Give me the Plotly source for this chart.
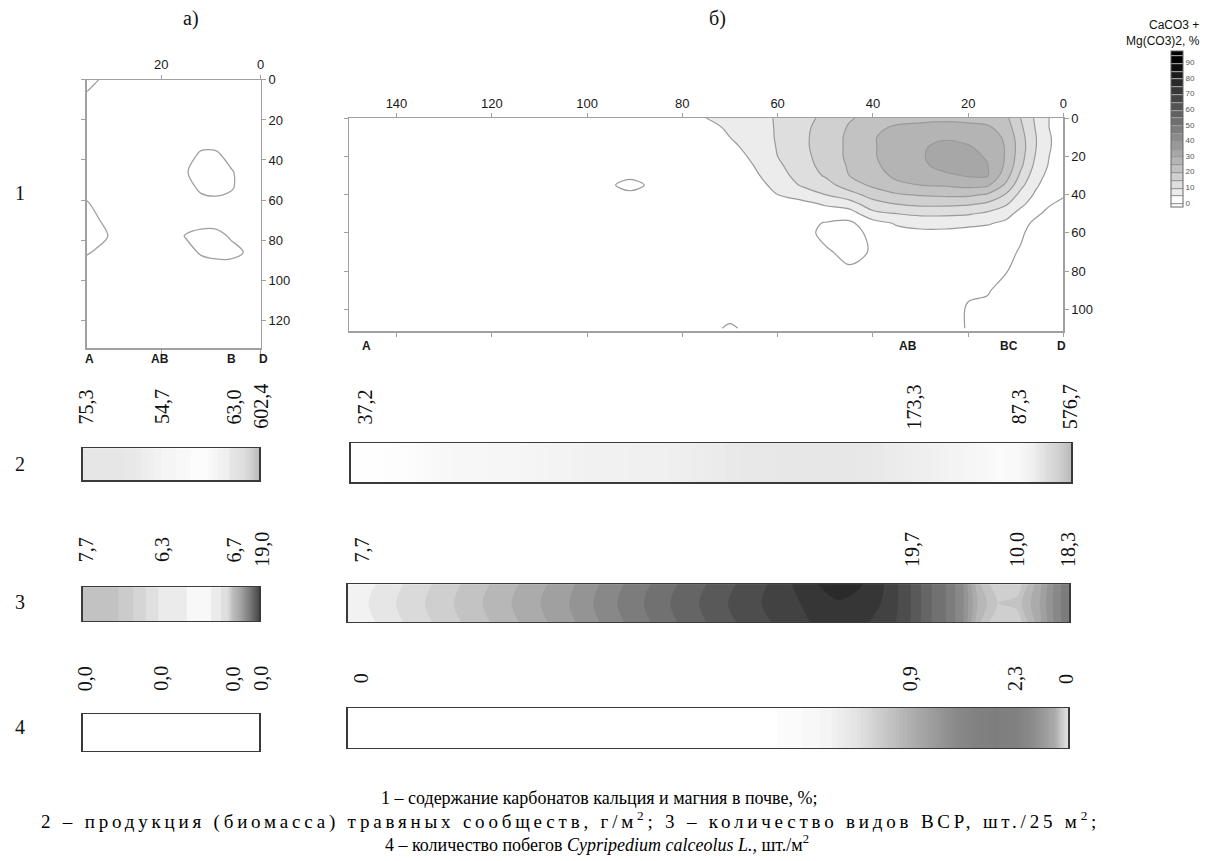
import plotly.graph_objects as go

W, H = 1208, 861

# ---------------- DATA ----------------
# Panel а: soil carbonate field (distance x, depth y, %)
a_x = [0, 3, 6, 9, 12, 15, 18, 22, 26, 30, 33, 35]
a_y = [0, 5, 10, 20, 30, 38, 46, 54, 62, 70, 78, 86, 94, 110, 134]
a_z = [
    [2, 2, 2, 2, 2, 2, 2, 2, 2, 2, -0.3, -2],
    [2, 2, 2, 2, 2, 2, 2, 2, 2, 2, 1.2, -0.3],
    [2, 2, 2, 2, 2, 2, 2, 2, 2, 2, 2, 2],
    [2, 2, 2, 2, 2, 2, 2, 2, 2, 2, 2, 2],
    [2, 2, 2, 2, 2, 2, 2, 2, 2, 2, 2, 2],
    [2, 2, 1.5, -1, -1, 2, 2, 2, 2, 2, 2, 2],
    [2, 2, -0.5, -2, -2, 0.3, 2, 2, 2, 2, 2, 2],
    [2, 2, -0.5, -2, -1, 2, 2, 2, 2, 2, 2, 2],
    [2, 2, 2, 2, 2, 2, 2, 2, 2, 2, 1, -0.5],
    [2, 2, 2, 2, 2, 2, 2, 2, 2, 2, -0.5, -1.5],
    [2, 2, 0.5, -1.5, -1.5, -0.3, 2, 2, 2, 0.5, -1.5, -2],
    [2, 0.3, -1.5, -1.5, -0.5, 1.5, 2, 2, 2, 2, 0.5, -0.5],
    [2, 2, 2, 2, 2, 2, 2, 2, 2, 2, 2, 2],
    [2, 2, 2, 2, 2, 2, 2, 2, 2, 2, 2, 2],
    [2, 2, 2, 2, 2, 2, 2, 2, 2, 2, 2, 2],
]

# Panel б: soil carbonate field
b_x = [0, 3, 6, 9, 12, 16, 20, 25, 30, 35, 40, 45, 50, 55, 60, 65, 70, 75, 80, 86, 91, 96, 110, 130, 150]
b_y = [0, 5, 10, 15, 20, 25, 30, 35, 40, 45, 50, 55, 60, 70, 80, 90, 100, 110]
b_z = [
    [2, 5, 9.5, 15, 21, 22.5, 23, 23.5, 23, 22.5, 21.5, 19.5, 16, 13.5, 10.5, 8, 6.5, 5, 3.5, 2, 2, 2, 2, 2, 2],
    [2, 5, 10, 16, 22.5, 26, 27, 27.5, 27, 26, 23.5, 20.5, 16.5, 14, 10.5, 7.5, 5.5, 4, 3, 2, 2, 2, 2, 2, 2],
    [2, 5.5, 10.5, 17, 24, 28, 29, 29.5, 28.5, 27.5, 24.5, 21, 17, 14, 10.5, 7, 5, 3, 2.5, 2, 2, 2, 2, 2, 2],
    [2, 5.5, 10.5, 17.5, 24.5, 29, 30.3, 31, 29.5, 27.5, 24.5, 21, 17, 14, 10.3, 6.5, 4, 2.5, 2, 2, 2, 2, 2, 2, 2],
    [1.5, 5, 10, 17, 24.5, 29.5, 31.5, 32, 29.5, 27.5, 24.5, 21, 17, 13.5, 10, 5.8, 3, 2, 2, 2, 2, 2, 2, 2, 2],
    [1, 4.5, 9, 16, 24, 30.3, 32, 31.5, 29, 27, 24, 20.5, 16.5, 13, 9, 5, 2.5, 2, 2, 2, 2, 2, 2, 2, 2],
    [1, 3.5, 7.5, 14, 22, 30.5, 30.5, 29, 27.5, 26, 23, 20, 15.5, 12, 8, 4, 2, 2, 2, 2, 2, 2, 2, 2, 2],
    [1, 2.5, 6, 11.5, 19, 26, 26.5, 25.5, 25, 24, 21, 17.5, 13, 10.5, 6.5, 3, 2, 2, 2, 2, -3, 2, 2, 2, 2],
    [0.5, 1.5, 4.5, 8.5, 14.5, 19.5, 21, 21, 20.5, 19.5, 17, 13, 10, 7, 5, 2.5, 2, 2, 2, 2, 2, 2, 2, 2, 2],
    [-1, 0.3, 3, 6, 10.5, 14, 15.5, 16, 16, 15, 13, 7.5, 5.5, 3.5, 3, 2, 2, 2, 2, 2, 2, 2, 2, 2, 2],
    [-1.5, -1, 0.8, 3.5, 6.5, 9, 10.5, 11, 11, 10, 8.5, 2.5, 2.5, 2, 2, 2, 2, 2, 2, 2, 2, 2, 2, 2, 2],
    [-1.5, -1.5, -0.8, 1.5, 4, 5.5, 6, 6.5, 6.5, 5.5, 3.0, -1.0, -0.3, 1.5, 2, 2, 2, 2, 2, 2, 2, 2, 2, 2, 2],
    [-1.5, -1.5, -1.2, 0.5, 2, 3, 3.5, 4, 4, 3.5, 1.0, -1.5, -1.0, 1.5, 2, 2, 2, 2, 2, 2, 2, 2, 2, 2, 2],
    [-1.5, -1.5, -1.5, -0.3, 0.8, 1.5, 1.5, 2, 2, 1.8, 0.3, -1.0, 0.5, 1.8, 2, 2, 2, 2, 2, 2, 2, 2, 2, 2, 2],
    [-1.5, -1.5, -1.5, -1, 0.1, 0.8, 0.8, 1.5, 1.5, 1.5, 1.5, 0.5, 1.8, 2, 2, 2, 2, 2, 2, 2, 2, 2, 2, 2, 2],
    [-1.5, -1.5, -1.5, -1.5, -0.8, 0.2, 0.3, 1.2, 1.5, 1.5, 2, 2, 2, 2, 2, 2, 2, 2, 2, 2, 2, 2, 2, 2, 2],
    [-1.5, -1.5, -1.5, -1.5, -1.2, -0.5, -0.2, 1.2, 1.5, 1.5, 2, 2, 2, 2, 2, 2, 1.5, 2, 2, 2, 2, 2, 2, 2, 2],
    [-1.5, -1.5, -1.5, -1.5, -1.2, -0.6, -0.2, 1.2, 1.5, 1.5, 2, 2, 2, 2, 2, 1, -0.5, 1, 2, 2, 2, 2, 2, 2, 2],
]

# Strip profiles along the transect (position x -> value)
s2a_x = [35, 30, 25, 20, 15, 11, 6, 3, 1.5, 0]
s2a_z = [75.3, 78, 72, 54.7, 48, 42, 63.0, 180, 350, 602.4]
s2b_x = [150, 140, 130, 115, 100, 85, 70, 55, 45, 38, 32, 26, 20, 15, 11, 8, 5, 3, 1.5, 0]
s2b_z = [37.2, 45, 90, 105, 150, 160, 210, 225, 220, 200, 173.3, 140, 100, 70, 87.3, 170, 300, 380, 470, 576.7]

s3a_x = [35, 30, 25, 20, 15, 11, 8, 6, 4, 2, 0]
s3a_z = [7.7, 7.6, 7.0, 6.3, 6.0, 5.7, 6.2, 6.7, 9.5, 14.0, 19.0]
s3b_x = [150, 140, 128, 116, 104, 94, 83, 71, 64, 54, 48, 44, 38, 33, 29, 25, 22, 19, 15, 11, 6, 3, 0]
s3b_bottom = [6.8, 8.2, 9.8, 11.4, 13.0, 14.6, 16.2, 17.8, 18.6, 19.6, 19.9, 19.8, 19.3, 18.0, 16.5, 15.4, 14.0, 11.0, 9.3, 9.4, 12.3, 14.2, 15.6]
s3b_middle = [7.0, 8.4, 10.0, 11.6, 13.2, 14.8, 16.4, 18.0, 18.8, 19.8, 20.3, 20.0, 19.5, 18.0, 16.5, 15.4, 14.0, 11.5, 10.0, 10.3, 12.5, 14.3, 15.6]
s3b_top = [6.8, 8.2, 9.8, 11.4, 13.0, 14.6, 16.2, 17.8, 18.6, 20.2, 20.9, 20.6, 19.5, 18.0, 16.5, 15.4, 14.0, 11.0, 9.3, 9.4, 12.3, 14.2, 15.6]

s4a_x = [35, 20, 6, 0]
s4a_z = [0, 0, 0, 0]
s4b_x = [150, 80, 66, 58, 50, 44, 36, 32, 27, 23, 19, 15, 11, 8, 5, 3, 1.5, 0]
s4b_z = [0, 0, 0, 0.03, 0.12, 0.3, 0.7, 0.9, 1.5, 2.0, 2.25, 2.35, 2.25, 2.0, 1.4, 0.95, 0.6, 0.3]

# sample points and their labels
a_pos = [35, 20, 6, 0]
b_pos = [150, 32, 11, 0]
a_letters = ["A", "AB", "B", "D"]
b_letters = ["A", "AB", "BC", "D"]
row2_a = ["75,3", "54,7", "63,0", "602,4"]
row2_b = ["37,2", "173,3", "87,3", "576,7"]
row3_a = ["7,7", "6,3", "6,7", "19,0"]
row3_b = ["7,7", "19,7", "10,0", "18,3"]
row4_a = ["0,0", "0,0", "0,0", "0,0"]
row4_b = ["0", "0,9", "2,3", "0"]

a_xticks = [20, 0]
a_yticks = [0, 20, 40, 60, 80, 100, 120]
b_xticks = [0, 20, 40, 60, 80, 100, 120, 140]
b_yticks = [0, 20, 40, 60, 80, 100]
cbar_ticks = [0, 10, 20, 30, 40, 50, 60, 70, 80, 90]

captions = [
    "1 – содержание карбонатов кальция и магния в почве, %;",
    "<span style='letter-spacing:3.8px'>2 – продукция (биомасса) травяных сообществ, г/м<sup>2</sup>; 3 – количество видов ВСР, шт./25 м<sup>2</sup>;</span>",
    "4 – количество побегов <i>Cypripedium calceolus L.,</i> шт./м<sup>2</sup>",
]
caption_sizes = [18, 19, 18]

# ---------------- HELPERS ----------------
def dx(p0, p1):
    return [p0 / W, p1 / W]

def dy(top, bot):
    return [1 - bot / H, 1 - top / H]

def band_scale(start, size, end, stops):
    nc = int((end - start) / size + 1e-9) + 1
    pts = []
    for v, c in stops:
        f = ((v - start) / size + 0.5) / nc
        pts.append([min(max(f, 0.0), 1.0), c])
    out = [[0.0, pts[0][1]]]
    for f, c in pts:
        if f > out[-1][0]:
            out.append([f, c])
    if out[-1][0] < 1.0:
        out.append([1.0, pts[-1][1]])
    return out

SERIF = "Liberation Serif"
SANS = "Liberation Sans"

panel_scale = [[0, '#ffffff'], [0.05, '#ffffff'], [0.10, '#ececec'], [0.95, '#000000'], [1, '#000000']]
panel_contours = dict(start=0, end=95, size=5, coloring='fill', showlines=True)

fig = go.Figure()

fig.add_trace(go.Contour(
    x=a_x, y=a_y, z=a_z, xaxis='x', yaxis='y', autocontour=False,
    colorscale=panel_scale, contours=panel_contours,
    line=dict(color='#a0a0a0', width=1.3, smoothing=1.0),
    showscale=False, hoverinfo='skip'))

fig.add_trace(go.Contour(
    x=b_x, y=b_y, z=b_z, xaxis='x2', yaxis='y2', autocontour=False,
    colorscale=panel_scale, contours=panel_contours,
    line=dict(color='#9a9a9a', width=1.2, smoothing=1.0),
    showscale=True, hoverinfo='skip',
    colorbar=dict(x=1175 / W, xanchor='left', xpad=0, y=1 - 44 / H, yanchor='top', ypad=0,
                  len=(201 - 44) / H, lenmode='fraction', thickness=12,
                  outlinewidth=1, outlinecolor='#666666',
                  tickmode='array', tickvals=cbar_ticks, ticks='',
                  tickfont=dict(size=8, color='#555555', family=SANS))))


def strip(x, rows, ys, xa, ya, start, size, end, stops):
    fig.add_trace(go.Contour(
        x=x, y=ys, z=rows, xaxis=xa, yaxis=ya, autocontour=False,
        contours=dict(start=start, end=end, size=size, coloring='fill', showlines=False),
        colorscale=band_scale(start, size, end, stops),
        line=dict(width=0), showscale=False, hoverinfo='skip'))


strip(s2a_x, [s2a_z, s2a_z], [0, 1], 'x3', 'y3', 42, 4, 602,
      [(40, '#ffffff'), (55, '#f2f2f2'), (75, '#e6e6e6'), (200, '#dcdcdc'), (605, '#bbbbbb')])
strip(s2b_x, [s2b_z, s2b_z], [0, 1], 'x4', 'y4', 35, 8, 595,
      [(30, '#ffffff'), (100, '#f6f6f6'), (170, '#efefef'), (230, '#e6e6e6'), (350, '#d6d6d6'), (600, '#b8b8b8')])
strip(s3a_x, [s3a_z, s3a_z], [0, 1], 'x5', 'y5', 5.6, 0.35, 19.6,
      [(5.6, '#ffffff'), (6.3, '#e4e4e4'), (7.0, '#d0d0d0'), (7.7, '#bdbdbd'), (19.5, '#454545')])
strip(s3b_x, [s3b_bottom, s3b_middle, s3b_top], [0, 0.5, 1], 'x6', 'y6', 7.6, 0.8, 20.4,
      [(7.2, '#f2f2f2'), (20.8, '#2a2a2a')])
fig.add_trace(go.Heatmap(
    x=s4a_x, y=[0, 1], z=[s4a_z, s4a_z], xaxis='x7', yaxis='y7',
    zmin=0, zmax=2.4, colorscale=[[0, '#ffffff'], [1, '#7c7c7c']],
    showscale=False, hoverinfo='skip'))
strip(s4b_x, [s4b_z, s4b_z], [0, 1], 'x8', 'y8', 0.02, 0.04, 2.42,
      [(0, '#ffffff'), (0.9, '#ababab'), (2.4, '#7c7c7c')])

# ---------------- AXES ----------------
tickfont = dict(family=SANS, size=13, color='#1a1a1a')
frame = dict(showline=True, linecolor='#a0a0a0', linewidth=1.3, mirror='ticks',
             ticks='outside', ticklen=4, tickcolor='#a0a0a0', showgrid=False, zeroline=False,
             tickfont=tickfont, tickmode='array')

strip_ax = dict(showline=True, linecolor='#3a3a3a', linewidth=1.5, mirror=True, ticks='',
                showticklabels=False, showgrid=False, zeroline=False)

layout_axes = dict(
    xaxis=dict(frame, domain=dx(87, 261.5), range=[35, 0], side='top', tickvals=a_xticks, anchor='y'),
    yaxis=dict(frame, domain=dy(73.5, 344), range=[134, 0], side='right', tickvals=a_yticks, anchor='x'),
    xaxis2=dict(frame, domain=dx(350, 1067), range=[150, 0], side='top', tickvals=b_xticks, anchor='y2'),
    yaxis2=dict(frame, domain=dy(112, 327), range=[111.5, 0], side='right', tickvals=b_yticks, anchor='x2'),
    xaxis3=dict(strip_ax, domain=dx(83, 260), range=[35, 0], anchor='y3'),
    yaxis3=dict(strip_ax, domain=dy(445, 477), range=[0, 1], anchor='x3'),
    xaxis4=dict(strip_ax, domain=dx(352, 1075), range=[150, 0], anchor='y4'),
    yaxis4=dict(strip_ax, domain=dy(440, 479), range=[0, 1], anchor='x4'),
    xaxis5=dict(strip_ax, domain=dx(83, 260), range=[35, 0], anchor='y5'),
    yaxis5=dict(strip_ax, domain=dy(585, 619), range=[0, 1], anchor='x5'),
    xaxis6=dict(strip_ax, domain=dx(349, 1073), range=[150, 0], anchor='y6'),
    yaxis6=dict(strip_ax, domain=dy(582, 620), range=[0, 1], anchor='x6'),
    xaxis7=dict(strip_ax, domain=dx(83, 260), range=[35, 0], anchor='y7'),
    yaxis7=dict(strip_ax, domain=dy(713, 750), range=[0, 1], anchor='x7'),
    xaxis8=dict(strip_ax, domain=dx(349, 1072), range=[150, 0], anchor='y8'),
    yaxis8=dict(strip_ax, domain=dy(707, 747), range=[0, 1], anchor='x8'),
)

# ---------------- ANNOTATIONS ----------------
ann = []
letter_font = dict(family=SANS, size=12, color='#1a1a1a')
a_letter_shift = [3, -1, 1, 3]
b_letter_shift = [18, -3, -2, -2]
for p, t, s in zip(a_pos, a_letters, a_letter_shift):
    ann.append(dict(x=p, xref='x', y=1 - 355 / H, yref='paper', text="<b>" + t + "</b>", showarrow=False,
                    font=letter_font, xanchor='center', yanchor='middle', xshift=s))
for p, t, s in zip(b_pos, b_letters, b_letter_shift):
    ann.append(dict(x=p, xref='x2', y=1 - 342 / H, yref='paper', text="<b>" + t + "</b>", showarrow=False,
                    font=letter_font, xanchor='center', yanchor='middle', xshift=s))

val_font = dict(family=SERIF, size=20, color='#111111')
a_shift = [3, 3, 5, 2]
b_shift = [14, -4, 0, -2]
for labels_a, labels_b, xa, xb, ycen in [
        (row2_a, row2_b, 'x3', 'x4', 403),
        (row3_a, row3_b, 'x5', 'x6', 547),
        (row4_a, row4_b, 'x7', 'x8', 677)]:
    for p, t, s in zip(a_pos, labels_a, a_shift):
        ann.append(dict(x=p, xref=xa, y=1 - ycen / H, yref='paper', text=t, textangle=-90,
                        showarrow=False, font=val_font, xanchor='center', yanchor='middle', xshift=s))
    for p, t, s in zip(b_pos, labels_b, b_shift):
        ann.append(dict(x=p, xref=xb, y=1 - ycen / H, yref='paper', text=t, textangle=-90,
                        showarrow=False, font=val_font, xanchor='center', yanchor='middle', xshift=s))

big_font = dict(family=SERIF, size=20, color='#111111')
for t, px, py in [("а)", 192, 12), ("б)", 720, 12), ("1", 20, 188), ("2", 20, 461), ("3", 20, 600), ("4", 20, 726)]:
    ann.append(dict(x=px / W, xref='paper', y=1 - py / H, yref='paper', text=t, showarrow=False,
                    font=big_font, xanchor='center', yanchor='middle'))

ann.append(dict(x=1206 / W, xref='paper', y=1 - 9 / H, yref='paper', text="CaCO3 +<br>Mg(CO3)2, %",
                showarrow=False, align='right', xanchor='right', yanchor='top',
                font=dict(family=SANS, size=12, color='#111111')))

for t, fs, px, py in zip(captions, caption_sizes, [601, 572, 599], [797, 820, 843]):
    ann.append(dict(x=px / W, xref='paper', y=1 - py / H, yref='paper', text=t, showarrow=False,
                    font=dict(family=SERIF, size=fs, color='#000000'), xanchor='center', yanchor='middle'))

fig.update_layout(
    width=W, height=H, margin=dict(l=0, r=0, t=0, b=0),
    paper_bgcolor='white', plot_bgcolor='white', showlegend=False,
    annotations=ann, **layout_axes)

fig.write_html(
    "out.html", config={'displayModeBar': False, 'staticPlot': True},
    post_script=("document.body.style.margin='0px';document.body.style.overflow='hidden';"
                 "var d=document.getElementById('{plot_id}');d.style.position='absolute';"
                 "d.style.left='0px';d.style.top='0px';"))
